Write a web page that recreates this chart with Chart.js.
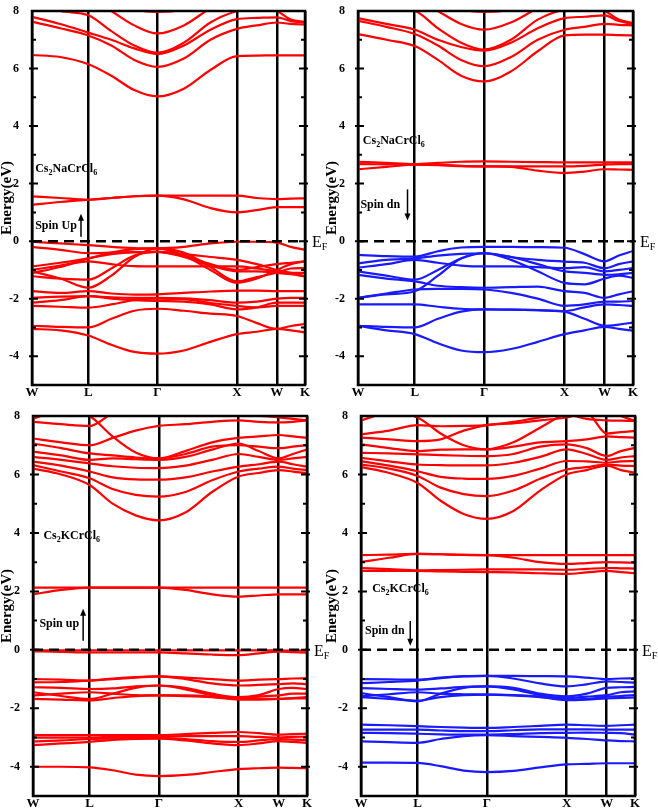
<!DOCTYPE html>
<html lang="en">
<head>
<meta charset="UTF-8">
<title>Band structures</title>
<script src="https://cdn.jsdelivr.net/npm/chart.js"></script>
<style>
    body { margin: 0; background: #fff; }
    .panel { position: absolute; }
</style>
</head>
<body>
<div class="panel" style="left:0;top:0;width:330px;height:400px"><canvas id="c1"></canvas></div>
<div class="panel" style="left:325px;top:0;width:333px;height:400px"><canvas id="c2"></canvas></div>
<div class="panel" style="left:0;top:405px;width:330px;height:407px"><canvas id="c3"></canvas></div>
<div class="panel" style="left:325px;top:405px;width:333px;height:407px"><canvas id="c4"></canvas></div>
<script>
// k-path W-L-G-X-W-K (cumulative distance) and sample points used for the bands
const kPath = [0, 0.354, 0.707, 0.996, 1.284, 1.573, 1.906, 2.24, 2.573, 2.823, 3.073, 3.25, 3.427];
const kTicks = [0, 0.707, 1.573, 2.573, 3.073, 3.427];
const kTickLabels = ['W', 'L', '\u0393', 'X', 'W', 'K'];

// Cs2NaCrCl6, spin up
const naUpCond = [
    [6.47, 6.40, 6.15, 5.75, 5.25, 5.03, 5.30, 5.95, 6.43, 6.45, 6.46, 6.46, 6.46],
    [7.63, 7.40, 7.15, 6.80, 6.30, 6.06, 6.35, 7.00, 7.38, 7.50, 7.60, 7.55, 7.53],
    [7.80, 7.55, 7.25, 7.00, 6.70, 6.50, 6.80, 7.35, 7.72, 7.76, 7.78, 7.65, 7.60],
    [8.30, 8.00, 7.85, 7.30, 6.80, 6.55, 6.90, 7.60, 8.00, 8.10, 8.00, 7.70, 7.62],
    [9.00, 8.80, 8.50, 8.00, 7.50, 7.22, 7.50, 8.10, 8.60, 8.50, 8.40, 8.30, 8.30],
    [9.00, 8.80, 8.60, 8.30, 8.05, 7.97, 8.05, 8.40, 8.80, 8.80, 8.80, 8.80, 8.80]
];
const naUpMid = [
    [1.56, 1.50, 1.44, 1.50, 1.56, 1.58, 1.58, 1.58, 1.58, 1.50, 1.46, 1.48, 1.49],
    [1.26, 1.36, 1.44, 1.50, 1.56, 1.58, 1.45, 1.15, 1.00, 1.08, 1.18, 1.18, 1.18]
];
const naUpVal = [
    [-0.02, -0.08, -0.14, -0.20, -0.24, -0.25, -0.20, -0.08, -0.02, -0.02, -0.05, -0.20, -0.30],
    [-0.20, -0.30, -0.42, -0.40, -0.38, -0.37, -0.50, -0.80, -1.00, -0.90, -0.80, -0.75, -0.70],
    [-0.88, -0.75, -0.60, -0.40, -0.28, -0.25, -0.40, -0.90, -1.40, -1.25, -1.10, -0.95, -0.94],
    [-1.00, -0.85, -0.70, -0.80, -0.87, -0.88, -0.88, -0.88, -0.88, -0.95, -1.05, -1.10, -1.10],
    [-1.11, -0.90, -0.60, -0.45, -0.38, -0.37, -0.45, -0.55, -0.65, -0.80, -1.00, -1.10, -1.22],
    [-1.22, -1.30, -1.34, -0.95, -0.50, -0.37, -0.55, -0.85, -1.05, -1.05, -1.10, -1.15, -1.22],
    [-1.05, -1.30, -1.62, -1.20, -0.55, -0.25, -0.50, -1.00, -1.45, -1.30, -1.00, -0.80, -0.70],
    [-1.74, -1.80, -1.74, -1.82, -1.86, -1.85, -1.80, -1.75, -1.72, -1.72, -1.74, -1.74, -1.74],
    [-1.97, -1.93, -1.91, -1.95, -1.97, -1.97, -1.99, -2.05, -2.14, -2.10, -2.00, -1.97, -1.97],
    [-2.14, -2.05, -1.91, -2.00, -2.05, -2.08, -2.10, -2.20, -2.37, -2.30, -2.14, -2.14, -2.14],
    [-2.25, -2.28, -2.31, -2.20, -2.05, -2.00, -2.02, -2.15, -2.25, -2.30, -2.25, -2.25, -2.25],
    [-2.94, -2.98, -3.00, -2.70, -2.42, -2.35, -2.42, -2.52, -2.60, -2.85, -3.05, -2.95, -2.88],
    [-3.05, -3.10, -3.28, -3.60, -3.85, -3.91, -3.80, -3.50, -3.23, -3.15, -3.05, -3.10, -3.17]
];

// Cs2NaCrCl6, spin down
const naDnCond = [
    [7.20, 7.00, 6.78, 6.30, 5.75, 5.55, 5.90, 6.60, 7.15, 7.18, 7.18, 7.16, 7.15],
    [7.66, 7.45, 7.20, 6.80, 6.30, 6.08, 6.40, 7.00, 7.35, 7.45, 7.55, 7.52, 7.50],
    [7.75, 7.55, 7.35, 7.00, 6.75, 6.62, 6.90, 7.40, 7.75, 7.80, 7.85, 7.65, 7.55],
    [8.30, 8.10, 8.00, 7.40, 6.90, 6.66, 7.00, 7.70, 8.05, 8.10, 8.00, 7.70, 7.58],
    [9.00, 8.80, 8.50, 8.00, 7.55, 7.35, 7.60, 8.10, 8.50, 8.40, 8.30, 8.20, 8.20],
    [9.00, 8.80, 8.60, 8.30, 8.05, 7.97, 8.05, 8.40, 8.80, 8.80, 8.80, 8.80, 8.80]
];
const naDnMid = [
    [2.76, 2.72, 2.68, 2.72, 2.76, 2.77, 2.76, 2.75, 2.74, 2.74, 2.74, 2.74, 2.74],
    [2.68, 2.67, 2.66, 2.64, 2.61, 2.60, 2.60, 2.60, 2.60, 2.62, 2.66, 2.68, 2.68],
    [2.50, 2.58, 2.66, 2.66, 2.62, 2.60, 2.58, 2.45, 2.37, 2.42, 2.50, 2.49, 2.48]
];
const naDnVal = [
    [-0.48, -0.52, -0.54, -0.35, -0.22, -0.20, -0.20, -0.21, -0.23, -0.45, -0.70, -0.50, -0.34],
    [-0.77, -0.65, -0.60, -0.50, -0.44, -0.42, -0.55, -0.65, -0.71, -0.75, -0.94, -0.80, -0.70],
    [-0.92, -0.80, -0.65, -0.75, -0.85, -0.88, -0.88, -0.90, -0.94, -0.90, -1.05, -1.00, -0.94],
    [-1.05, -1.20, -1.34, -1.00, -0.60, -0.42, -0.65, -1.05, -1.45, -1.50, -1.30, -1.20, -1.28],
    [-1.97, -1.85, -1.74, -1.20, -0.60, -0.42, -0.55, -0.80, -1.05, -1.10, -1.17, -1.15, -1.10],
    [-1.17, -1.30, -1.40, -1.55, -1.60, -1.62, -1.60, -1.58, -1.74, -1.80, -1.97, -1.85, -1.74],
    [-1.97, -1.82, -1.68, -1.66, -1.66, -1.68, -1.80, -2.00, -2.25, -2.20, -2.10, -2.10, -2.08],
    [-2.20, -2.20, -2.20, -2.28, -2.35, -2.37, -2.38, -2.40, -2.43, -2.30, -2.20, -2.22, -2.25],
    [-2.94, -2.98, -3.00, -2.70, -2.45, -2.37, -2.38, -2.40, -2.45, -2.70, -2.94, -2.90, -2.83],
    [-2.94, -3.10, -3.23, -3.55, -3.80, -3.86, -3.75, -3.50, -3.23, -3.10, -2.98, -3.05, -3.11]
];

// Cs2KCrCl6, spin up
const kUpCond = [
    [6.20, 6.00, 5.64, 5.00, 4.60, 4.43, 4.70, 5.40, 5.93, 6.05, 6.15, 6.10, 6.04],
    [6.32, 6.10, 5.87, 5.50, 5.30, 5.24, 5.40, 5.80, 6.10, 6.20, 6.27, 6.20, 6.15],
    [6.44, 6.30, 6.10, 5.90, 5.83, 5.82, 5.90, 6.10, 6.27, 6.35, 6.44, 6.35, 6.27],
    [6.60, 6.50, 6.38, 6.28, 6.23, 6.22, 6.30, 6.50, 6.70, 6.60, 6.50, 6.55, 6.60],
    [6.78, 6.65, 6.50, 6.55, 6.52, 6.50, 6.60, 6.85, 7.06, 6.80, 6.55, 6.70, 6.85],
    [7.06, 6.90, 6.72, 6.65, 6.58, 6.55, 6.70, 6.95, 7.00, 6.95, 6.90, 6.95, 7.00],
    [7.23, 7.10, 7.00, 7.25, 7.50, 7.66, 7.72, 7.80, 7.85, 7.80, 7.78, 7.80, 7.85],
    [7.80, 7.72, 7.66, 8.10, 8.40, 8.50, 8.40, 8.20, 8.00, 8.00, 7.95, 7.90, 7.85],
    [7.90, 8.20, 8.00, 7.30, 6.75, 6.55, 6.80, 7.10, 7.25, 7.30, 7.35, 7.30, 7.25],
    [9.00, 8.50, 8.30, 8.20, 8.10, 8.05, 8.10, 8.20, 8.30, 8.30, 8.30, 8.30, 8.30]
];
const kUpMid = [
    [2.13, 2.13, 2.13, 2.13, 2.13, 2.13, 2.13, 2.13, 2.13, 2.13, 2.13, 2.13, 2.13],
    [1.90, 2.05, 2.13, 2.13, 2.13, 2.13, 2.05, 1.90, 1.82, 1.86, 1.90, 1.90, 1.90]
];
const kUpVal = [
    [-0.02, -0.02, -0.02, -0.02, -0.02, -0.02, -0.02, -0.02, -0.02, -0.02, -0.02, -0.03, -0.03],
    [-0.05, -0.07, -0.09, -0.09, -0.09, -0.09, -0.12, -0.16, -0.18, -0.12, -0.06, -0.08, -0.10],
    [-1.00, -1.02, -1.05, -0.98, -0.93, -0.91, -0.95, -1.00, -1.05, -1.02, -1.00, -0.98, -0.97],
    [-1.11, -1.10, -1.05, -1.00, -0.95, -0.91, -1.00, -1.15, -1.22, -1.20, -1.17, -1.15, -1.17],
    [-1.28, -1.30, -1.34, -1.32, -1.25, -1.22, -1.30, -1.50, -1.62, -1.55, -1.34, -1.30, -1.34],
    [-1.45, -1.58, -1.68, -1.50, -1.30, -1.22, -1.35, -1.55, -1.65, -1.60, -1.56, -1.50, -1.50],
    [-1.56, -1.50, -1.45, -1.50, -1.55, -1.56, -1.56, -1.60, -1.68, -1.68, -1.68, -1.65, -1.62],
    [-1.68, -1.70, -1.73, -1.65, -1.58, -1.56, -1.58, -1.62, -1.70, -1.70, -1.68, -1.66, -1.66],
    [-2.92, -2.92, -2.92, -2.92, -2.92, -2.92, -2.88, -2.84, -2.81, -2.85, -2.90, -2.88, -2.87],
    [-3.00, -3.00, -3.00, -2.98, -2.97, -2.96, -2.95, -2.95, -2.95, -2.98, -3.00, -2.98, -2.97],
    [-3.13, -3.10, -3.05, -3.03, -3.02, -3.01, -3.05, -3.12, -3.15, -3.10, -3.05, -3.07, -3.09],
    [-3.26, -3.20, -3.15, -3.08, -3.05, -3.04, -3.10, -3.20, -3.26, -3.20, -3.12, -3.15, -3.18],
    [-4.00, -4.00, -4.02, -4.12, -4.27, -4.32, -4.28, -4.18, -4.08, -4.05, -4.03, -4.04, -4.05]
];

// Cs2KCrCl6, spin down
const kDnCond = [
    [6.25, 6.05, 5.71, 5.10, 4.65, 4.48, 4.75, 5.45, 6.00, 6.15, 6.30, 6.15, 6.06],
    [6.34, 6.20, 5.95, 5.55, 5.33, 5.26, 5.45, 5.85, 6.17, 6.25, 6.34, 6.30, 6.29],
    [6.46, 6.30, 6.11, 5.92, 5.86, 5.85, 5.95, 6.20, 6.46, 6.45, 6.40, 6.45, 6.46],
    [6.57, 6.45, 6.34, 6.32, 6.31, 6.31, 6.40, 6.60, 6.86, 6.70, 6.50, 6.58, 6.63],
    [6.74, 6.72, 6.69, 6.66, 6.64, 6.63, 6.70, 6.95, 7.03, 6.90, 6.63, 6.80, 6.91],
    [7.03, 6.90, 6.80, 6.85, 6.86, 6.86, 6.95, 7.10, 7.14, 7.20, 7.30, 7.28, 7.26],
    [7.26, 7.20, 7.14, 7.20, 7.50, 7.69, 7.75, 7.85, 7.95, 8.10, 7.40, 7.45, 7.49],
    [7.37, 7.50, 7.69, 7.65, 7.66, 7.69, 7.80, 7.95, 8.05, 7.90, 7.85, 7.84, 7.83],
    [7.85, 8.10, 7.95, 7.40, 7.00, 6.86, 7.10, 7.60, 8.10, 8.30, 8.20, 8.00, 7.83]
];
const kDnMid = [
    [3.24, 3.26, 3.28, 3.27, 3.25, 3.24, 3.24, 3.24, 3.24, 3.24, 3.24, 3.24, 3.24],
    [3.00, 3.15, 3.28, 3.27, 3.25, 3.24, 3.15, 3.00, 2.94, 2.97, 3.00, 2.99, 2.98],
    [2.80, 2.76, 2.72, 2.73, 2.74, 2.75, 2.75, 2.75, 2.74, 2.77, 2.80, 2.79, 2.78],
    [2.70, 2.70, 2.70, 2.68, 2.67, 2.66, 2.65, 2.62, 2.60, 2.65, 2.70, 2.66, 2.62]
];
const kDnVal = [
    [-1.00, -1.01, -1.02, -0.95, -0.90, -0.89, -0.89, -0.90, -0.91, -0.95, -1.00, -0.98, -0.97],
    [-1.14, -1.10, -1.05, -0.97, -0.91, -0.89, -0.98, -1.15, -1.25, -1.18, -1.08, -1.10, -1.12],
    [-1.31, -1.34, -1.36, -1.32, -1.27, -1.25, -1.30, -1.50, -1.59, -1.50, -1.30, -1.28, -1.27],
    [-1.48, -1.62, -1.76, -1.50, -1.30, -1.25, -1.35, -1.55, -1.65, -1.60, -1.55, -1.45, -1.42],
    [-1.59, -1.52, -1.45, -1.50, -1.52, -1.53, -1.55, -1.60, -1.70, -1.68, -1.60, -1.58, -1.55],
    [-1.62, -1.68, -1.74, -1.62, -1.55, -1.53, -1.56, -1.62, -1.72, -1.70, -1.66, -1.64, -1.63],
    [-2.56, -2.58, -2.61, -2.64, -2.66, -2.67, -2.64, -2.60, -2.56, -2.58, -2.60, -2.58, -2.56],
    [-2.73, -2.73, -2.73, -2.76, -2.78, -2.78, -2.75, -2.72, -2.72, -2.72, -2.73, -2.73, -2.73],
    [-2.84, -2.85, -2.87, -2.89, -2.90, -2.90, -2.88, -2.85, -2.84, -2.83, -2.84, -2.85, -2.90],
    [-3.13, -3.16, -3.18, -3.05, -2.95, -2.92, -2.95, -2.98, -3.01, -3.05, -3.10, -3.12, -3.13],
    [-3.86, -3.86, -3.87, -3.98, -4.13, -4.18, -4.14, -4.02, -3.92, -3.90, -3.88, -3.88, -3.88]
];

const RED = '#ff0000';
const BLUE = '#1a1aff';
const SERIF = '"Liberation Serif", "Times New Roman", serif';

const panels = [
    { id: 'c1', yw: 32, xh: 15, pad: { top: 6, right: 25 },
      groups: [[naUpCond, RED], [naUpMid, RED], [naUpVal, RED]],
      formula: [['Cs', 0], ['2', 1], ['NaCrCl', 0], ['6', 1]], fpos: [0.04, 2.55],
      spin: 'Spin Up', spos: [0.04, 0.55], arrow: [0.615, 0.15, 0.95] },
    { id: 'c2', yw: 33, xh: 15, pad: { top: 6, right: 25 },
      groups: [[naDnCond, RED], [naDnMid, RED], [naDnVal, BLUE]],
      formula: [['Cs', 0], ['2', 1], ['NaCrCl', 0], ['6', 1]], fpos: [0.06, 3.52],
      spin: 'Spin dn', spos: [0.03, 1.29], arrow: [0.617, 1.8, 0.72] },
    { id: 'c3', yw: 33, xh: 16, pad: { top: 11, right: 23 },
      groups: [[kUpCond, RED], [kUpMid, RED], [kUpVal, RED]],
      formula: [['Cs', 0], ['2', 1], ['KCrCl', 0], ['6', 1]], fpos: [0.13, 3.94],
      spin: 'Spin up', spos: [0.08, 0.93], arrow: [0.627, 0.31, 1.41] },
    { id: 'c4', yw: 36, xh: 16, pad: { top: 11, right: 23 },
      groups: [[kDnCond, RED], [kDnMid, RED], [kDnVal, BLUE]],
      formula: [['Cs', 0], ['2', 1], ['KCrCl', 0], ['6', 1]], fpos: [0.14, 2.13],
      spin: 'Spin dn', spos: [0.05, 0.68], arrow: [0.616, 0.99, 0.14] }
];

// frame, Fermi level, inner ticks, labels and arrows
const decor = {
    id: 'decor',
    afterDatasetsDraw(chart) {
        const { ctx, chartArea: a, scales: { x, y } } = chart;
        const p = chart.options.plugins.decor;
        ctx.save();
        ctx.strokeStyle = '#000';
        ctx.fillStyle = '#000';

        const y0 = y.getPixelForValue(0);
        ctx.lineWidth = 2.5;
        ctx.setLineDash([10, 6]);
        ctx.beginPath();
        ctx.moveTo(a.left, y0);
        ctx.lineTo(a.right, y0);
        ctx.stroke();
        ctx.setLineDash([]);

        ctx.strokeRect(a.left, a.top, a.right - a.left, a.bottom - a.top);

        ctx.lineWidth = 2;
        for (let v = -4; v <= 7; v++) {
            const py = y.getPixelForValue(v);
            const len = v % 2 === 0 ? 6 : 4;
            ctx.beginPath();
            ctx.moveTo(a.left - (v % 2 === 0 ? 3 : 0), py);
            ctx.lineTo(a.left + len, py);
            ctx.moveTo(a.right - len, py);
            ctx.lineTo(a.right + (v % 2 === 0 ? 3 : 0), py);
            ctx.stroke();
        }

        // E_F label
        ctx.textBaseline = 'alphabetic';
        ctx.textAlign = 'left';
        ctx.font = '16px ' + SERIF;
        ctx.fillText('E', a.right + 7, y0 + 6);
        const ew = ctx.measureText('E').width;
        ctx.font = '10px ' + SERIF;
        ctx.fillText('F', a.right + 7 + ew, y0 + 9);

        // compound formula
        let fx = x.getPixelForValue(p.fpos[0]);
        const fy = y.getPixelForValue(p.fpos[1]) + 4;
        p.formula.forEach(([t, sub]) => {
            ctx.font = (sub ? 'bold 8px ' : 'bold 12px ') + SERIF;
            ctx.fillText(t, fx, fy + (sub ? 3 : 0));
            fx += ctx.measureText(t).width;
        });

        // spin label and arrow
        ctx.font = 'bold 12px ' + SERIF;
        ctx.fillText(p.spin, x.getPixelForValue(p.spos[0]), y.getPixelForValue(p.spos[1]) + 4);
        const ax = x.getPixelForValue(p.arrow[0]);
        const ya = y.getPixelForValue(p.arrow[1]);
        const yb = y.getPixelForValue(p.arrow[2]);
        const dir = yb < ya ? -1 : 1;
        ctx.lineWidth = 1.5;
        ctx.beginPath();
        ctx.moveTo(ax, ya);
        ctx.lineTo(ax, yb - dir * 5);
        ctx.stroke();
        ctx.beginPath();
        ctx.moveTo(ax, yb);
        ctx.lineTo(ax - 3, yb - dir * 7);
        ctx.lineTo(ax + 3, yb - dir * 7);
        ctx.closePath();
        ctx.fill();
        ctx.restore();
    }
};

panels.forEach(cfg => {
    const datasets = [];
    cfg.groups.forEach(([bands, color]) => {
        bands.forEach(band => {
            datasets.push({
                data: kPath.map((k, i) => ({ x: k, y: band[i] })),
                borderColor: color,
                borderWidth: 2.2,
                pointRadius: 0,
                fill: false,
                cubicInterpolationMode: 'monotone'
            });
        });
    });

    new Chart(document.getElementById(cfg.id), {
        type: 'line',
        data: { datasets },
        options: {
            responsive: true,
            maintainAspectRatio: false,
            animation: false,
            devicePixelRatio: 1,
            layout: { padding: { left: 0, top: cfg.pad.top, right: cfg.pad.right, bottom: 0 } },
            plugins: {
                legend: { display: false },
                tooltip: { enabled: false },
                decor: { formula: cfg.formula, fpos: cfg.fpos, spin: cfg.spin, spos: cfg.spos, arrow: cfg.arrow }
            },
            scales: {
                x: {
                    type: 'linear',
                    min: 0,
                    max: kPath[kPath.length - 1],
                    afterBuildTicks: s => { s.ticks = kTicks.map(v => ({ value: v })); },
                    afterFit: s => { s.height = cfg.xh; },
                    ticks: {
                        autoSkip: false,
                        maxRotation: 0,
                        padding: 1,
                        color: '#000',
                        font: { family: SERIF, size: 13, weight: 'bold', lineHeight: 1 },
                        callback: (v, i) => kTickLabels[i]
                    },
                    grid: { color: '#000', lineWidth: 2.5, drawTicks: false },
                    border: { display: false }
                },
                y: {
                    min: -5,
                    max: 8,
                    afterFit: s => { s.width = cfg.yw; },
                    ticks: {
                        stepSize: 2,
                        includeBounds: false,
                        padding: 5,
                        color: '#000',
                        font: { family: SERIF, size: 12, weight: 'bold', lineHeight: 1 }
                    },
                    grid: { display: false },
                    border: { display: false },
                    title: {
                        display: true,
                        text: 'Energy(eV)',
                        color: '#000',
                        padding: 0,
                        font: { family: SERIF, size: 15, weight: 'bold', lineHeight: 1 }
                    }
                }
            }
        },
        plugins: [decor]
    });
});
</script>
</body>
</html>
